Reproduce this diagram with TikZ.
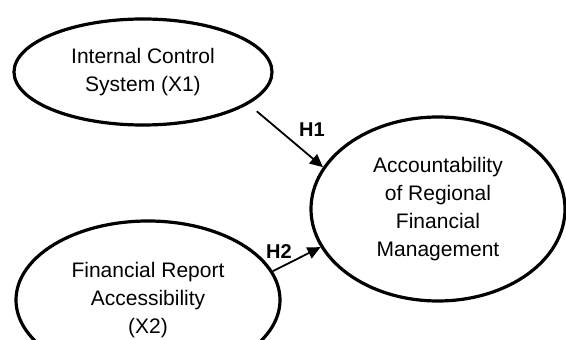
\documentclass[tikz,border=0pt]{standalone}
\usepackage{fontspec}
\setmainfont{Liberation Sans}
\usetikzlibrary{shapes.geometric,arrows.meta}
\begin{document}
\begin{tikzpicture}[x=1pt, y=1pt,
            construct/.style={
                ellipse,
                draw=black,
                line width=3.2pt,
                inner sep=0pt,
                align=center,
                font=\fontsize{21}{28}\selectfont
            },
            hyp/.style={
                draw=none,
                inner sep=0pt,
                font=\fontsize{20}{24}\selectfont\bfseries
            },
            arrow/.style={-{Triangle[length=13pt,width=12pt]}, line width=1.8pt}
        ]
        
        % Frame of the picture
        \useasboundingbox (0,0) rectangle (566,340);
        \clip (0,0) rectangle (566,340);
        
        % Constructs
        \node[construct, minimum width=258pt, minimum height=106pt] (x1) at (143,268) {Internal Control\\System (X1)};
        \node[construct, minimum width=264pt, minimum height=158pt] (x2) at (148,40) {Financial Report\\Accessibility\\(X2)};
        \node[construct, minimum width=254pt, minimum height=184pt] (y) at (438,131) {Accountability\\of Regional\\Financial\\Management};
        
        % Hypotheses
        \draw[arrow, shorten <=11pt] (x1.-17) -- (y.160);
        \draw[arrow] (x2.13) -- (y.198);
        
        % Labels
        \node[hyp] (h1) at (312,210) {H1};
        \node[hyp] (h2) at (279,88) {H2};
        
        \end{tikzpicture}
\end{document}
